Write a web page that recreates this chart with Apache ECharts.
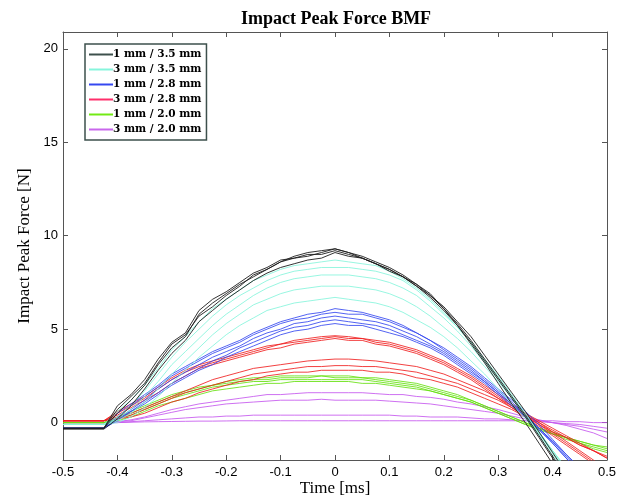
<!DOCTYPE html>
<html><head><meta charset="utf-8">
<script src="https://cdn.jsdelivr.net/npm/echarts@6/dist/echarts.min.js"></script>
<style>html,body{margin:0;padding:0;background:#fff}#c{width:621px;height:498px}</style>
</head><body><div id="c"></div>
<script>
const times = [-0.5,-0.425,-0.4,-0.375,-0.35,-0.325,-0.3,-0.275,-0.25,-0.225,-0.2,-0.175,-0.15,-0.125,-0.1,-0.075,-0.05,-0.025,0,0.025,0.05,0.075,0.1,0.125,0.15,0.175,0.2,0.225,0.25,0.275,0.3,0.325,0.35,0.375,0.4,0.425,0.45,0.475,0.5];

const yTicks = [0,5,10,15,20];
const legendNames = ['1 mm / 3.5 mm','3 mm / 3.5 mm','1 mm / 2.8 mm','3 mm / 2.8 mm','1 mm / 2.0 mm','3 mm / 2.0 mm'];

const black1 = [-0.3,-0.3,0.9,1.5,2.3,3.4,4.3,4.8,6.0,6.6, 7.0,7.5,8.0,8.3,8.7,8.8,9.0,9.0,9.2,9.0, 8.8,8.5,8.2,7.8,7.3,6.7,6.0,5.2,4.3,3.3, 2.3,1.3,0.3,-0.8,-1.9,-3.0,-4.0,-5.0,-6.0];
const black2 = [-0.3,-0.3,0.5,1.2,2.0,3.1,4.0,4.6,5.8,6.4, 6.9,7.4,7.8,8.2,8.6,8.9,9.1,9.2,9.3,9.1, 8.9,8.6,8.3,7.9,7.4,6.8,6.1,5.3,4.4,3.4, 2.4,1.4,0.4,-0.7,-1.8,-2.9,-4.0,-5.0,-6.0];
const black3 = [-0.35,-0.35,0.2,0.9,1.8,2.8,3.7,4.4,5.4,6.0, 6.6,7.1,7.6,8.0,8.3,8.5,8.7,8.8,9.1,8.9, 8.8,8.5,8.1,7.8,7.3,6.8,6.2,5.4,4.6,3.6, 2.6,1.6,0.6,-0.5,-1.6,-2.7,-3.8,-4.8,-5.8];
const black4 = [-0.3,-0.3,0.7,1.4,2.1,3.2,4.2,4.7,5.7,6.2, 6.8,7.3,7.9,8.2,8.6,8.8,8.9,9.1,9.3,9.1, 8.8,8.5,8.2,7.8,7.4,6.9,6.1,5.2,4.2,3.2, 2.1,1.0,0.0,-1.1,-2.2,-3.3,-4.3,-5.3,-6.3];

const cyan1 = [-0.1,-0.1,0.6,1.2,2.0,2.9,3.9,4.6,5.4,6.1, 6.6,7.1,7.6,7.9,8.2,8.4,8.5,8.6,8.7,8.6, 8.5,8.4,8.1,7.7,7.2,6.6,5.9,5.1,4.3,3.3, 2.4,1.4,0.4,-0.6,-1.6,-2.6,-3.6,-4.6,-5.6];
const cyan2 = [-0.1,-0.1,0.3,0.9,1.7,2.6,3.5,4.3,5.0,5.7, 6.3,6.8,7.2,7.6,7.9,8.1,8.2,8.3,8.3,8.3, 8.2,8.1,7.9,7.6,7.1,6.5,5.8,5.1,4.3,3.4, 2.5,1.5,0.5,-0.5,-1.5,-2.5,-3.5,-4.5,-5.5];
const cyan3 = [-0.1,-0.1,0.2,0.7,1.4,2.2,3.1,3.8,4.5,5.2, 5.8,6.3,6.8,7.2,7.5,7.7,7.8,7.9,7.9,7.9, 7.8,7.7,7.5,7.2,6.8,6.2,5.6,4.9,4.1,3.2, 2.3,1.3,0.3,-0.7,-1.7,-2.7,-3.7,-4.7,-5.7];
const cyan4 = [-0.1,-0.1,0.1,0.5,1.1,1.8,2.6,3.3,4.0,4.7, 5.3,5.8,6.3,6.6,6.9,7.1,7.2,7.3,7.3,7.3, 7.2,7.1,6.9,6.6,6.2,5.7,5.1,4.5,3.8,3.0, 2.2,1.3,0.4,-0.5,-1.5,-2.5,-3.5,-4.5,-5.5];
const cyan5 = [-0.1,-0.1,0.0,0.3,0.8,1.4,2.1,2.8,3.5,4.1, 4.7,5.2,5.6,6.0,6.2,6.4,6.5,6.6,6.7,6.6, 6.5,6.4,6.2,5.9,5.5,5.1,4.6,4.0,3.3,2.6, 1.8,1.0,0.2,-0.6,-1.5,-2.4,-3.3,-4.2,-5.1];

const blue1 = [-0.3,-0.3,0.5,1.0,1.5,2.0,2.6,3.0,3.4,3.8, 4.1,4.4,4.8,5.1,5.4,5.6,5.8,5.9,6.1,6.0, 5.9,5.7,5.5,5.2,4.8,4.4,4.0,3.5,3.0,2.4, 1.8,1.2,0.6,-0.1,-0.9,-1.7,-2.5,-3.3,-4.1];
const blue2 = [-0.3,-0.3,0.3,0.9,1.4,1.9,2.5,2.9,3.3,3.7, 4.0,4.3,4.7,5.0,5.3,5.5,5.6,5.8,5.9,5.8, 5.8,5.6,5.4,5.1,4.8,4.4,3.9,3.4,2.9,2.3, 1.7,1.1,0.4,-0.3,-1.1,-1.9,-2.7,-3.5,-4.3];
const blue3 = [-0.3,-0.3,0.2,0.7,1.2,1.8,2.3,2.7,3.1,3.5, 3.8,4.1,4.5,4.8,5.0,5.3,5.4,5.6,5.7,5.6, 5.5,5.4,5.2,4.9,4.6,4.2,3.8,3.3,2.8,2.2, 1.6,1.0,0.4,-0.3,-1.0,-1.8,-2.6,-3.4,-4.2];
const blue4 = [-0.3,-0.3,0.1,0.6,1.1,1.6,2.1,2.5,2.9,3.3, 3.6,4.0,4.3,4.6,4.9,5.1,5.2,5.4,5.5,5.4, 5.3,5.2,5.0,4.7,4.4,4.1,3.7,3.2,2.7,2.2, 1.6,1.0,0.3,-0.4,-1.1,-1.9,-2.7,-3.5,-4.3];
const blue5 = [-0.3,-0.3,0.2,0.6,1.0,1.5,2.0,2.4,2.8,3.1, 3.5,3.8,4.1,4.4,4.7,4.9,5.0,5.2,5.3,5.2, 5.2,5.0,4.8,4.6,4.3,4.0,3.6,3.1,2.6,2.1, 1.5,0.9,0.3,-0.3,-1.0,-1.7,-2.4,-3.1,-3.8];

const red1 = [0.1,0.1,0.6,1.0,1.4,1.9,2.4,2.8,3.1,3.3, 3.5,3.7,3.9,4.1,4.2,4.4,4.5,4.6,4.65,4.6, 4.5,4.4,4.3,4.1,3.9,3.6,3.3,2.9,2.5,2.0, 1.5,1.0,0.5,0.0,-0.5,-1.0,-1.5,-2.0,-2.5];
const red2 = [0.1,0.1,0.5,0.9,1.3,1.8,2.3,2.7,3.0,3.2, 3.4,3.6,3.8,4.0,4.2,4.3,4.4,4.5,4.6,4.5, 4.5,4.3,4.2,4.0,3.8,3.5,3.2,2.8,2.4,1.9, 1.4,0.9,0.4,-0.1,-0.6,-1.1,-1.6,-2.1,-2.6];
const red3 = [0.1,0.1,0.4,0.8,1.2,1.6,2.1,2.5,2.9,3.1, 3.3,3.5,3.7,3.9,4.0,4.2,4.3,4.4,4.5,4.4, 4.4,4.2,4.1,3.9,3.7,3.4,3.1,2.7,2.3,1.8, 1.3,0.8,0.3,-0.2,-0.7,-1.2,-1.7,-2.2,-2.7];
const red4 = [0.1,0.1,0.3,0.5,0.8,1.1,1.4,1.7,2.0,2.3, 2.5,2.7,2.9,3.0,3.1,3.2,3.3,3.35,3.4,3.4, 3.35,3.3,3.2,3.1,3.0,2.8,2.6,2.3,2.0,1.7, 1.3,0.9,0.5,0.1,-0.3,-0.7,-1.1,-1.5,-1.9];
const red5 = [0.1,0.1,0.2,0.4,0.7,1.0,1.3,1.6,1.8,2.0, 2.2,2.4,2.6,2.7,2.8,2.9,3.0,3.0,3.05,3.05, 3.0,3.0,2.9,2.8,2.7,2.5,2.3,2.1,1.8,1.5, 1.2,0.8,0.4,0.0,-0.4,-0.8,-1.2,-1.5,-1.8];
const red6 = [0.1,0.1,0.2,0.3,0.5,0.8,1.1,1.3,1.6,1.8, 2.0,2.2,2.3,2.5,2.6,2.7,2.7,2.8,2.8,2.8, 2.8,2.7,2.7,2.6,2.4,2.3,2.1,1.9,1.6,1.3, 1.0,0.7,0.3,-0.1,-0.5,-0.8,-1.2,-1.5,-1.9];

const green1 = [0,0,0.3,0.6,0.9,1.2,1.5,1.7,1.9,2.0, 2.2,2.3,2.4,2.4,2.5,2.5,2.5,2.5,2.5,2.5, 2.4,2.4,2.3,2.2,2.1,1.9,1.7,1.5,1.2,0.9, 0.6,0.3,0.0,-0.3,-0.6,-0.8,-1.1,-1.3,-1.5];
const green2 = [0,0,0.2,0.5,0.8,1.1,1.4,1.6,1.8,2.0, 2.1,2.2,2.3,2.3,2.4,2.4,2.4,2.5,2.4,2.4, 2.4,2.3,2.2,2.1,2.0,1.8,1.6,1.4,1.2,0.9, 0.6,0.3,0.0,-0.3,-0.5,-0.8,-1.0,-1.2,-1.4];
const green3 = [0,0,0.2,0.4,0.7,1.0,1.3,1.5,1.7,1.9, 2.0,2.1,2.2,2.2,2.3,2.3,2.3,2.3,2.3,2.3, 2.3,2.2,2.1,2.0,1.9,1.7,1.5,1.3,1.1,0.8, 0.5,0.2,-0.1,-0.4,-0.6,-0.9,-1.1,-1.4,-1.6];
const green4 = [0,0,0.1,0.3,0.6,0.9,1.1,1.3,1.5,1.7, 1.8,1.9,2.0,2.1,2.1,2.2,2.2,2.2,2.2,2.2, 2.1,2.1,2.0,1.9,1.8,1.7,1.5,1.3,1.1,0.8, 0.5,0.2,-0.1,-0.3,-0.6,-0.8,-1.0,-1.2,-1.3];

const purple1 = [0,0,0.05,0.15,0.3,0.5,0.7,0.85,1.0,1.1, 1.2,1.3,1.4,1.5,1.5,1.55,1.6,1.6,1.6,1.6, 1.6,1.55,1.5,1.5,1.4,1.35,1.25,1.1,1.0,0.85, 0.7,0.5,0.3,0.15,0.0,-0.15,-0.35,-0.55,-0.85];
const purple2 = [0,0,0.05,0.1,0.25,0.4,0.55,0.7,0.8,0.9, 1.0,1.05,1.1,1.15,1.2,1.2,1.2,1.25,1.2,1.2, 1.2,1.2,1.15,1.1,1.05,1.0,0.9,0.8,0.7,0.6, 0.5,0.35,0.2,0.1,0.0,-0.1,-0.2,-0.35,-0.5];
const purple3 = [0,0,0,0.05,0.1,0.15,0.2,0.25,0.3,0.3, 0.35,0.35,0.4,0.4,0.4,0.4,0.4,0.4,0.4,0.4, 0.4,0.4,0.4,0.35,0.35,0.3,0.3,0.3,0.25,0.2, 0.2,0.15,0.1,0.05,0.0,-0.05,-0.1,-0.2,-0.3];
const purple4 = [0,0,0,0.02,0.04,0.05,0.06,0.07,0.08,0.08, 0.09,0.1,0.1,0.1,0.1,0.1,0.1,0.1,0.1,0.1, 0.1,0.1,0.1,0.1,0.1,0.1,0.1,0.1,0.1,0.1, 0.1,0.1,0.1,0.1,0.1,0.05,0.05,0.0,0.0];

const groupRows = [
  [black1, black2, black3, black4],
  [cyan1, cyan2, cyan3, cyan4, cyan5],
  [blue1, blue2, blue3, blue4, blue5],
  [red1, red2, red3, red4, red5, red6],
  [green1, green2, green3, green4],
  [purple1, purple2, purple3, purple4]
];
const groupColors = ['#1e1e1e', '#86f5dc', '#3548f0', '#f02020', '#66e010', '#c557ef'];
const legendColors = ['#3d504c', '#86f5dc', '#3548f0', '#ff2e6a', '#72ea14', '#c967ec'];

const series = [];
for (let g = groupRows.length - 1; g >= 0; g--) {
  groupRows[g].forEach(row => {
    series.push({
      type: 'line', name: legendNames[g],
      data: times.map((t, i) => [t, row[i]]),
      showSymbol: false, symbol: 'none', clip: true, animation: false,
      lineStyle: { width: 1, color: groupColors[g], opacity: g === 0 ? 0.9 : 0.85 },
      itemStyle: { color: legendColors[g] },
      z: 2
    });
  });
}

const axisLineStyle = { show: true, onZero: false, lineStyle: { color: '#555', width: 1 } };
const tickStyle = { show: true, inside: true, length: 5, lineStyle: { color: '#555' } };
const chart = echarts.init(document.getElementById('c'), null, { renderer: 'canvas' });
chart.setOption({
  backgroundColor: '#fff',
  animation: false,
  title: {
    text: 'Impact Peak Force BMF', left: 236, top: 5,
    textStyle: { fontFamily: 'Liberation Serif', fontWeight: 'bold', fontSize: 18, color: '#000' }
  },
  legend: {
    data: legendNames.map((n, i) => ({ name: n, itemStyle: { color: legendColors[i] } })),
    orient: 'vertical', left: 85, top: 44,
    icon: 'rect', itemWidth: 24, itemHeight: 2, itemGap: 4,
    padding: [5, 5, 5, 4],
    borderColor: '#3d504c', borderWidth: 1.5, backgroundColor: '#fff',
    textStyle: { fontFamily: 'DejaVu Serif', fontWeight: 'bold', fontSize: 10.5, color: '#000', padding: [0, 0, 0, -5], lineHeight: 11 },
    selectedMode: false
  },
  grid: { left: 63, right: 14, top: 32, bottom: 38, outerBoundsMode: 'none', containLabel: false },
  xAxis: [{
    type: 'value', min: -0.5, max: 0.5, interval: 0.1, position: 'bottom',
    axisLine: axisLineStyle, axisTick: tickStyle,
    splitLine: { show: false },
    axisLabel: { color: '#000', fontFamily: 'Liberation Sans', fontSize: 13, margin: 6,
      formatter: v => String(Math.round(v * 10) / 10) },
    name: 'Time [ms]', nameLocation: 'middle', nameGap: 20, nameMoveOverlap: false,
    nameTextStyle: { fontFamily: 'Liberation Serif', fontSize: 17, color: '#000', verticalAlign: 'top' }
  }, {
    type: 'value', min: -0.5, max: 0.5, interval: 0.1, position: 'top',
    axisLine: axisLineStyle, axisTick: tickStyle,
    splitLine: { show: false }, axisLabel: { show: false }
  }],
  yAxis: [{
    type: 'value', min: -2, max: 20.9, position: 'left',
    axisLine: axisLineStyle,
    axisTick: Object.assign({}, tickStyle, { customValues: yTicks }),
    splitLine: { show: false },
    axisLabel: { color: '#000', fontFamily: 'Liberation Sans', fontSize: 13, margin: 5, customValues: yTicks },
    name: 'Impact Peak Force [N]', nameLocation: 'middle', nameGap: 30, nameMoveOverlap: false,
    nameTextStyle: { fontFamily: 'Liberation Serif', fontSize: 17, color: '#000' }
  }, {
    type: 'value', min: -2, max: 20.9, position: 'right',
    axisLine: axisLineStyle,
    axisTick: Object.assign({}, tickStyle, { customValues: yTicks }),
    splitLine: { show: false }, axisLabel: { show: false }
  }],
  series: series
});
</script></body></html>
